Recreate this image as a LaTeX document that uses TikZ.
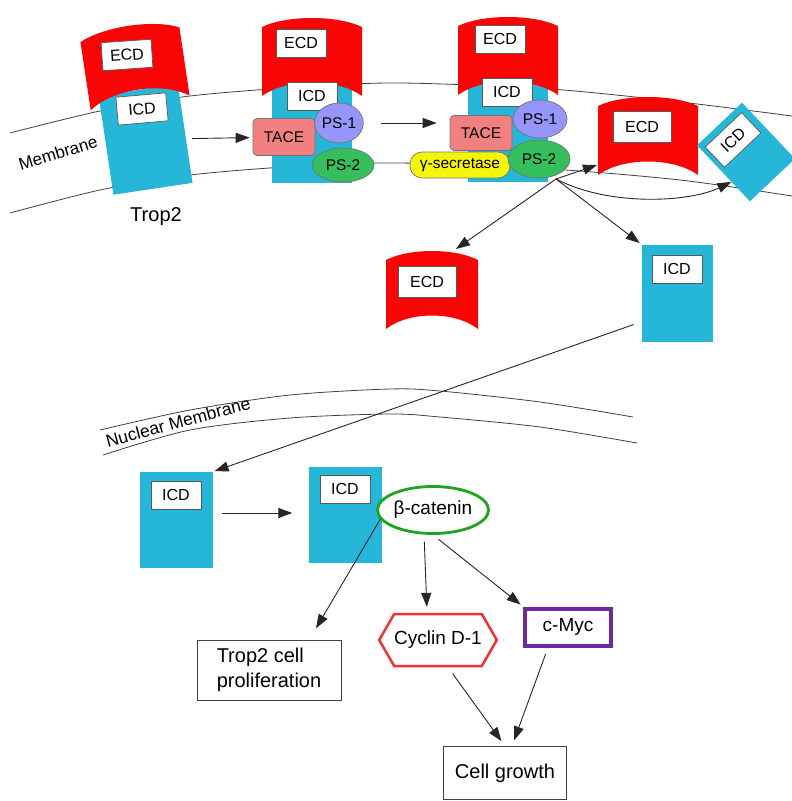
\documentclass[tikz,border=0pt]{standalone}
\usepackage{fontspec}
\setmainfont{Liberation Sans}
\usetikzlibrary{arrows.meta,shapes.geometric,shapes.symbols,calc}

\definecolor{ecdred}{RGB}{250,5,5}
\definecolor{icdblue}{RGB}{38,182,216}
\definecolor{tacepink}{RGB}{242,128,128}
\definecolor{pslilac}{RGB}{150,150,250}
\definecolor{psgreen}{RGB}{52,190,92}
\definecolor{gsyellow}{RGB}{245,245,10}
\definecolor{catgreen}{RGB}{30,165,30}
\definecolor{cycred}{RGB}{240,50,50}
\definecolor{mycpurple}{RGB}{110,40,160}

% red extracellular cup, drawn round the foot of its ICD body
\newcommand{\ecdcup}[1]{\fill[ecdred,#1] (-50,-87) -- (-50,-156) .. controls (-25,-168) and (25,-168) .. (50,-156) -- (50,-87) .. controls (25,-105) and (-25,-105) .. (-50,-87) -- cycle;}

\begin{document}
\begin{tikzpicture}[x=1pt,y=-1pt,>={Triangle[length=14pt,width=10pt]},
  memline/.style={line width=0.8pt,draw=black!75},
  conn/.style={->,line width=0.9pt,draw=black!85},
  icdbody/.style={fill=icdblue,inner sep=0pt},
  lbl/.style={draw=black!65,fill=white,line width=0.7pt,minimum width=50pt,minimum height=28pt,inner sep=0pt,font=\fontsize{16}{18}\selectfont},
  enz/.style={draw=black!55,line width=0.7pt,inner sep=0pt,font=\fontsize{15.5}{17}\selectfont},
  res/.style={draw=black!75,line width=0.9pt,fill=white,inner sep=0pt,font=\fontsize{20}{25}\selectfont}]
\useasboundingbox (0,0) rectangle (792,801);
%%%MEMBRANES
\draw[memline] plot[smooth] coordinates {(10,133) (100,111) (190,96) (300,87) (400,83) (550,89) (680,102) (792,116)};
\draw[memline] plot[smooth] coordinates {(10,213) (100,190) (190,175) (300,166) (400,163) (550,169) (680,180) (792,196)};
\draw[memline] plot[smooth] coordinates {(100,430) (190,410) (290,395) (390,389) (440,391) (540,402) (633,417)};
\draw[memline] plot[smooth] coordinates {(103,455) (190,430) (290,418) (390,414) (440,417) (540,427) (637,443)};
\node[rotate=17,font=\fontsize{17}{19}\selectfont] (memtxt) at (58,153) {Membrane};
\node[rotate=15,font=\fontsize{17.5}{19}\selectfont] (nuctxt) at (178,422) {Nuclear Membrane};
%%%TROP2
\node[icdbody,minimum width=80pt,minimum height=100pt,anchor=south,rotate=8.5] (icd1) at (153,189) {};
\ecdcup{shift={(153,189)},rotate=8.5}
\node[lbl,rotate=4] (ecd1) at (127,55) {ECD};
\node[lbl,rotate=5] (icd1l) at (142,109) {ICD};
\node[font=\fontsize{20}{24}\selectfont] (trop) at (156,217) {Trop2};
%%%TACE AND PRESENILINS
\node[icdbody,minimum width=80pt,minimum height=100pt,anchor=south] (icd2) at (312,183) {};
\ecdcup{shift={(312,183)}}
\node[lbl] (ecd2) at (301,43) {ECD};
\node[lbl] (icd2l) at (312,96) {ICD};
\node[enz,fill=tacepink,rounded corners=4pt,minimum width=62pt,minimum height=37pt] (tace1) at (284,137) {TACE};
\node[enz,ellipse,fill=pslilac,minimum width=48pt,minimum height=40pt] (ps1a) at (339,123) {PS-1};
\node[enz,ellipse,fill=psgreen,minimum width=62pt,minimum height=34pt] (ps2a) at (343,165) {PS-2};
%%%GAMMA SECRETASE
\node[icdbody,minimum width=80pt,minimum height=100pt,anchor=south] (icd3) at (508,182) {};
\ecdcup{shift={(508,182)}}
\node[lbl] (ecd3) at (500,39) {ECD};
\node[lbl] (icd3l) at (507,92) {ICD};
\node[enz,fill=gsyellow,rounded corners=12pt,minimum width=100pt,minimum height=26pt] (gsec) at (460,165) {γ-secretase};
\node[enz,fill=tacepink,rounded corners=4pt,minimum width=62pt,minimum height=35pt] (tace2) at (481,133) {TACE};
\node[enz,ellipse,fill=pslilac,minimum width=54pt,minimum height=38pt] (ps1b) at (540,119) {PS-1};
\node[enz,ellipse,fill=psgreen,minimum width=62pt,minimum height=38pt] (ps2b) at (539,159) {PS-2};
%%%CLEAVED PARTS
\ecdcup{shift={(648,262)}}
\node[lbl,minimum width=58pt,minimum height=31pt] (ecdR) at (642,127) {ECD};
\node[icdbody,minimum width=62pt,minimum height=77pt,rotate=43.4] (icdR) at (746,152) {};
\node[lbl,rotate=43.4] (icdRl) at (733,140) {ICD};
\ecdcup{shift={(432,416)},xscale=0.92}
\node[lbl,minimum width=58pt,minimum height=31pt] (ecdL) at (427,282) {ECD};
\node[icdbody,minimum width=71pt,minimum height=97pt] (icdF) at (677,293) {};
\node[lbl] (icdFl) at (677,269) {ICD};
%%%NUCLEUS
\node[icdbody,minimum width=73pt,minimum height=96pt] (icdN1) at (176,520) {};
\node[lbl] (icdN1l) at (176,495) {ICD};
\node[icdbody,minimum width=73pt,minimum height=96pt] (icdN2) at (345,515) {};
\node[lbl] (icdN2l) at (345,489) {ICD};
\node[ellipse,draw=catgreen,line width=2.8pt,fill=white,inner sep=0pt,minimum width=99pt,minimum height=47pt,font=\fontsize{19}{22}\selectfont] (beta) at (433,510) {β-catenin};
\node[res,minimum width=144pt,minimum height=60pt,align=left] (prolif) at (269,670) {Trop2 cell\\proliferation};
\node[signal,signal to=west and east,signal pointer angle=120,draw=cycred,line width=2.5pt,fill=white,inner sep=0pt,minimum width=110pt,minimum height=52pt,font=\fontsize{19}{22}\selectfont] (cyclin) at (438,640) {Cyclin D-1};
\node[draw=mycpurple,line width=4pt,fill=white,inner sep=0pt,minimum width=86pt,minimum height=37pt,font=\fontsize{19}{22}\selectfont] (cmyc) at (568,627) {c-Myc};
\node[res,minimum width=123pt,minimum height=53pt] (growth) at (505,773) {Cell growth};
%%%ARROWS
\coordinate (hub) at (556,179);
\coordinate (ecdRfoot) at (597,165);
\coordinate (ecdLtop) at (456,249);
\draw[conn,shorten <=6pt,shorten >=3pt] (icd1) -- (tace1);
\draw[conn,shorten <=17pt,shorten >=13pt] (ps1a.east) -- (ps1a.east -| tace2.west);
\draw[conn] (hub) -- (ecdRfoot);
\draw[conn] (hub) .. controls (610,207) and (690,202) .. ($(icdR.west)!0.3!(icdR.south west)$);
\draw[conn] (hub) -- (ecdLtop);
\draw[conn,shorten >=2pt] (hub) -- (icdF.north west);
\draw[conn,shorten <=8pt,shorten >=2pt] (icdF.219) -- (icdN1.north east);
\draw[conn,shorten <=9pt,shorten >=16pt] ([yshift=7pt]icdN1.east) -- ([yshift=7pt]icdN1.east -| icdN2.west);
\draw[conn,shorten >=13pt] (beta.190) -- (prolif.37);
\draw[conn,shorten <=7pt,shorten >=6pt] (beta.250) -- (cyclin.112);
\draw[conn,shorten <=7pt,shorten >=3pt] (beta.south) -- (cmyc.north west);
\draw[conn,shorten <=8pt,shorten >=6pt] ([xshift=10pt]cyclin.south) -- (growth.north);
\draw[conn,shorten <=7pt,shorten >=6pt] ([xshift=-20pt]cmyc.south) -- ([xshift=7pt]growth.north);
\end{tikzpicture}
\end{document}
